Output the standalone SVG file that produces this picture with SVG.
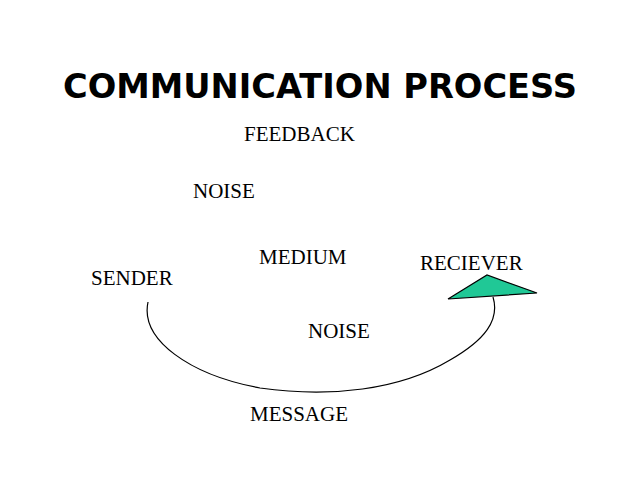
<svg xmlns="http://www.w3.org/2000/svg" width="638" height="479" viewBox="0 0 638 479">
<style>
.t{font-family:"Liberation Serif","Times New Roman",serif;font-size:21px;fill:#000}
.title{font-family:"DejaVu Sans","Liberation Sans",sans-serif;font-weight:bold;font-size:34px;fill:#000}
</style>
<rect width="638" height="479" fill="#fff"/>
<text class="title" x="320" y="98" text-anchor="middle" textLength="514" lengthAdjust="spacingAndGlyphs">COMMUNICATION PROCESS</text>
<g id="connectors">
<path d="M148,302 C140,340 190,375 260,388 C330,398 400,390 450,360 C485,340 500,320 493,297" fill="none" stroke="#000" stroke-width="1.2"/>
</g>
<g id="arrowhead"><polygon points="448,299 487,275 537,293" fill="#20c896" stroke="#000" stroke-width="1.2"/></g>
<g id="feedback"><text class="t" x="244" y="141">FEEDBACK</text></g>
<g id="noise1"><text class="t" x="193" y="198">NOISE</text></g>
<g id="medium"><text class="t" x="259" y="264">MEDIUM</text></g>
<g id="reciever"><text class="t" x="420" y="270">RECIEVER</text></g>
<g id="sender"><text class="t" x="91" y="285">SENDER</text></g>
<g id="noise2"><text class="t" x="308" y="338">NOISE</text></g>
<g id="message"><text class="t" x="250" y="421">MESSAGE</text></g>
</svg>
